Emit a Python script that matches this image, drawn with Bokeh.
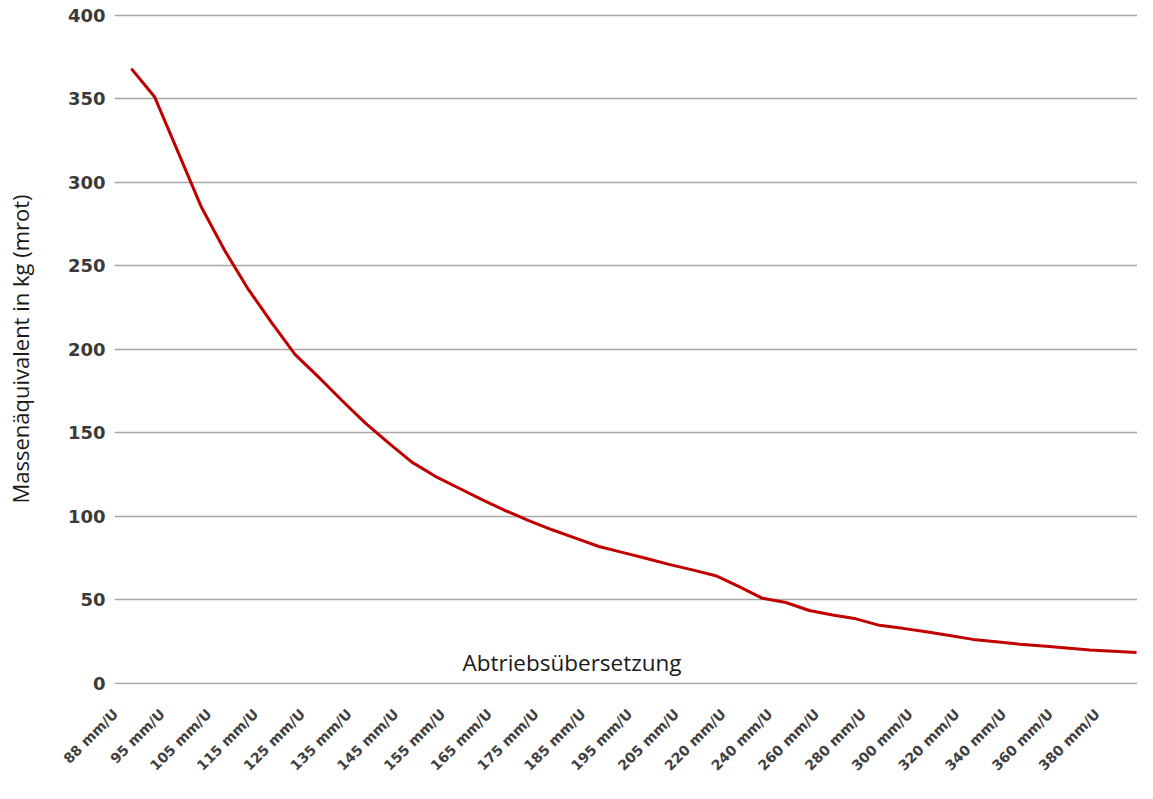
import math
from bokeh.plotting import figure
from bokeh.models import FixedTicker, Label, Range1d, ColumnDataSource
from bokeh.embed import file_html
from bokeh.resources import INLINE

# Category labels shown on the axis (every second data point carries a label)
tick_labels = ["88 mm/U", "95 mm/U", "105 mm/U", "115 mm/U", "125 mm/U", "135 mm/U",
               "145 mm/U", "155 mm/U", "165 mm/U", "175 mm/U", "185 mm/U", "195 mm/U",
               "205 mm/U", "220 mm/U", "240 mm/U", "260 mm/U", "280 mm/U", "300 mm/U",
               "320 mm/U", "340 mm/U", "360 mm/U", "380 mm/U"]
label_step = 2

# Mass equivalent in kg (mrot) for each data point
mass_kg = [368, 351, 318, 285, 259, 236, 216, 197, 183.5, 169.5,
           156, 144, 132.5, 124, 117, 110, 103.5, 97.5, 92, 87,
           82, 78.5, 75, 71.3, 68, 64.5, 58, 51, 48.5, 43.7,
           41, 38.7, 34.8, 33, 31, 28.7, 26.4, 25, 23.5, 22.4,
           21.2, 20, 19.3, 18.5]

y_ticks = [0, 50, 100, 150, 200, 250, 300, 350, 400]

x_title = "Abtriebsübersetzung"
y_title = "Massenäquivalent in kg (mrot)"

idx = list(range(len(mass_kg)))
src = ColumnDataSource(dict(x=idx, y=mass_kg))

p = figure(width=1137, height=783, output_backend="svg", toolbar_location=None,
           x_range=Range1d(-0.72, len(mass_kg) - 1 + 0.04),
           y_range=Range1d(y_ticks[0] - 0.6, y_ticks[-1] + 1),
           min_border_left=114, min_border_right=0, min_border_top=13,
           min_border_bottom=99)
p.outline_line_color = None
p.background_fill_color = "white"
p.border_fill_color = "white"

p.line("x", "y", source=src, line_color="#c00000", line_width=3)

# y axis
p.yaxis.ticker = FixedTicker(ticks=y_ticks)
p.yaxis.axis_line_color = None
p.yaxis.major_tick_line_color = None
p.yaxis.minor_tick_line_color = None
p.yaxis.major_tick_out = 0
p.yaxis.major_tick_in = 0
p.yaxis.major_label_standoff = 9
p.yaxis.major_label_text_font = "DejaVu Sans"
p.yaxis.major_label_text_font_style = "bold"
p.yaxis.major_label_text_font_size = "18px"
p.yaxis.major_label_text_color = "#3a3a3a"
p.yaxis.axis_label = y_title
p.yaxis.axis_label_text_font = "Open Sans"
p.yaxis.axis_label_text_font_style = "normal"
p.yaxis.axis_label_text_font_size = "22px"
p.yaxis.axis_label_text_color = "#1a1a1a"
p.yaxis.axis_label_standoff = 30

# x axis: labels anchored slightly left of their category, as in the original
label_shift = 0.68
tick_pos = [i * label_step - label_shift for i in range(len(tick_labels))]
p.xaxis.ticker = FixedTicker(ticks=tick_pos)
p.xaxis.major_label_overrides = {t: lab for t, lab in zip(tick_pos, tick_labels)}
p.xaxis.major_label_orientation = math.pi / 4
p.xaxis.axis_line_color = None
p.xaxis.major_tick_line_color = None
p.xaxis.minor_tick_line_color = None
p.xaxis.major_tick_out = 0
p.xaxis.major_tick_in = 0
p.xaxis.major_label_standoff = 27
p.xaxis.major_label_text_font = "DejaVu Sans"
p.xaxis.major_label_text_font_style = "bold"
p.xaxis.major_label_text_font_size = "14px"
p.xaxis.major_label_text_color = "#404040"

p.xgrid.grid_line_color = None
p.ygrid.grid_line_color = "#a6a6a6"
p.ygrid.grid_line_width = 1.5

p.add_layout(Label(x=18.85, y=12.5, text=x_title, text_align="center",
                   text_baseline="middle", text_font="Open Sans",
                   text_font_size="22.5px", text_color="#1a1a1a"))

open("out.html", "w").write(file_html(p, INLINE))
